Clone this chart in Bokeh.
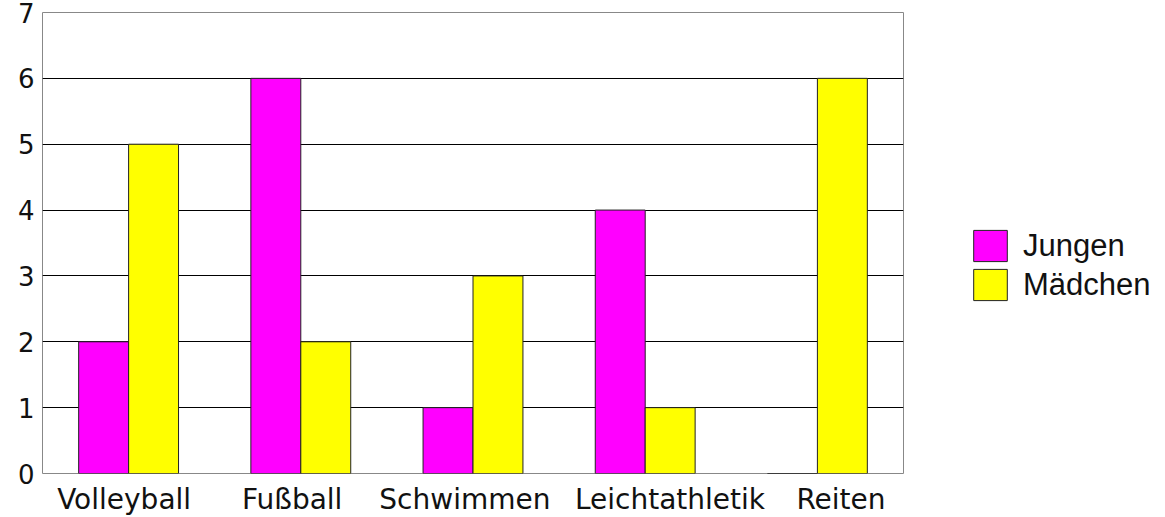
from bokeh.plotting import figure
from bokeh.models import (FixedTicker, Legend, LegendItem, ColumnDataSource, Range1d)
from bokeh.transform import dodge
from bokeh.embed import file_html
from bokeh.resources import INLINE

categories = ["Volleyball", "Fußball", "Schwimmen", "Leichtathletik", "Reiten"]
jungen = [2, 6, 1, 4, 0]
maedchen = [5, 2, 3, 1, 6]
y_ticks = [0, 1, 2, 3, 4, 5, 6, 7]
# horizontal nudge of each category label (in category widths), as in the original layout
label_nudge = [-0.026, -0.05, -0.047, 0.144, 0.137]

n = len(categories)
centers = [i + 0.5 for i in range(n)]
src = ColumnDataSource(dict(xc=centers, cat=categories, jungen=jungen, maedchen=maedchen))

p = figure(x_range=Range1d(0, n), y_range=(0, 7),
           frame_width=861, frame_height=461, min_border_left=42, min_border_top=12,
           min_border_right=246, min_border_bottom=34,
           output_backend="svg", toolbar_location=None)

bw = 0.29
r1 = p.vbar(x=dodge("xc", -bw / 2), top="jungen", width=bw, source=src,
            fill_color="#FF00FF", line_color="#222222", line_width=1)
r2 = p.vbar(x=dodge("xc", bw / 2), top="maedchen", width=bw, source=src,
            fill_color="#FFFF00", line_color="#222222", line_width=1)

p.outline_line_color = "#888888"
p.outline_line_width = 1
p.xgrid.grid_line_color = None
p.ygrid.grid_line_color = "#000000"
p.ygrid.grid_line_alpha = 1
p.ygrid.ticker = FixedTicker(ticks=[1, 2, 3, 4, 5, 6])

label_pos = [c + d for c, d in zip(centers, label_nudge)]
p.xaxis.ticker = FixedTicker(ticks=label_pos)
p.xaxis.major_label_overrides = {pos: c for pos, c in zip(label_pos, categories)}

p.yaxis.ticker = FixedTicker(ticks=y_ticks)
for ax in (p.xaxis[0], p.yaxis[0]):
    ax.axis_line_color = None
    ax.major_tick_line_color = None
    ax.minor_tick_line_color = None
    ax.major_label_text_font = "DejaVu Sans"
    ax.major_label_text_color = "#111111"
p.yaxis.major_label_text_font_size = "26px"
p.xaxis.major_label_text_font_size = "28px"
p.yaxis.major_label_standoff = 2
p.xaxis.major_label_standoff = 3

legend = Legend(items=[LegendItem(label="Jungen", renderers=[r1]),
                       LegendItem(label="Mädchen", renderers=[r2])],
                location=(66, 169), orientation="vertical",
                glyph_width=42, glyph_height=39, label_height=39, spacing=-3,
                padding=0, margin=0, border_line_color=None, background_fill_alpha=0,
                label_standoff=12, label_text_font="Liberation Sans",
                label_text_font_size="31px", label_text_color="#111111")
p.add_layout(legend, "right")

open("out.html", "w").write(file_html(p, INLINE))
